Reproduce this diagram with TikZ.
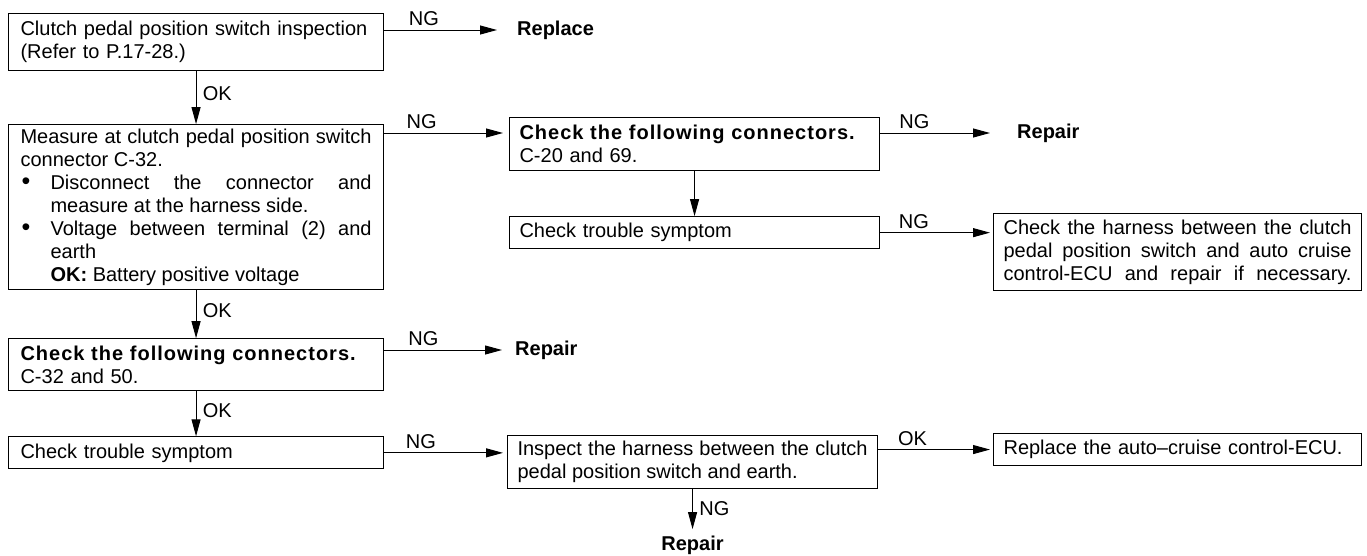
\documentclass[tikz,border=0pt]{standalone}
\usepackage{fontspec}
\setmainfont{Liberation Sans}
\usepackage{tikz}
\usetikzlibrary{arrows.meta, positioning}
\newcommand{\flowfont}{\fontsize{20}{23}\selectfont}
\newcommand{\connhead}[1]{{\bfseries\addfontfeature{LetterSpace=5}#1}}
\newcommand{\flowbullet}{\makebox[30pt][l]{\hspace{1pt}{\fontsize{25}{23}\selectfont\textbullet}}}
\setlength{\parindent}{0pt}
\hyphenpenalty=10000
\exhyphenpenalty=10000
\tolerance=10000
\hbadness=10000

\begin{document}
\begin{tikzpicture}[
  x=1pt, y=-1pt,
  box/.style={rectangle, draw, line width=1.1pt, anchor=north west,
              inner xsep=12pt, inner ysep=3pt, text width=351pt,
              align=left, font=\flowfont},
  rbox/.style={box, inner xsep=10pt, text width=350pt},
  term/.style={anchor=west, inner sep=0pt, font=\flowfont\bfseries},
  arrow/.style={-{Triangle[length=17pt, width=9pt]}, line width=1pt},
  lbl/.style={above, pos=0.3, font=\flowfont},
  vlbl/.style={right, pos=0.42, xshift=3pt, font=\flowfont},
]
  \useasboundingbox (0,0) rectangle (1367,555);

  % left column
  \node[box, minimum height=57pt] (insp) at (8,13)
    {Clutch pedal position switch inspection\\(Refer to P.17-28.)};
  \node[box, align=justify, minimum height=165pt,
        below=53pt of insp.south west, anchor=north west] (meas)
    {Measure at clutch pedal position switch connector C-32.\par
     \hangindent=30pt\hangafter=1\flowbullet Disconnect the connector and measure at the harness side.\par
     \hangindent=30pt\hangafter=1\flowbullet Voltage between terminal (2) and earth\par
     \hspace*{30pt}\textbf{OK:} Battery positive voltage};
  \node[box, minimum height=52pt, below=48pt of meas.south west, anchor=north west] (conn1)
    {\connhead{Check the following connectors.}\\C-32 and 50.};
  \node[box, minimum height=32pt, below=45pt of conn1.south west, anchor=north west] (symp1)
    {Check trouble symptom};

  % right columns
  \node[rbox, minimum height=53pt] (conn2) at (509,117)
    {\connhead{Check the following connectors.}\\C-20 and 69.};
  \node[rbox, minimum height=32pt, below=45pt of conn2.south west, anchor=north west] (symp2)
    {Check trouble symptom};
  \node[rbox, align=justify, text width=348pt, minimum height=77pt] (hchk) at (993,213)
    {\parfillskip=0pt Check the harness between the clutch pedal position switch and auto cruise control-ECU and repair if necessary.\par};
  \node[rbox, align=justify, minimum height=53pt] (harn) at (507,435)
    {Inspect the harness between the clutch pedal position switch and earth.};
  \node[rbox, text width=348pt, minimum height=32pt] (repl) at (993,433)
    {Replace the auto--cruise control-ECU.};

  % end results
  \node[term] (rplA) at (517,30) {Replace};
  \node[term] (rprA) at (515,350) {Repair};
  \node[term] (rprB) at (1017,133) {Repair};
  \node[term, below=47pt of harn] (rprC) {Repair};
  \coordinate (conn2in) at ([yshift=-16pt]conn2.north west);

  \draw[arrow] (insp.south) -- node[vlbl]{OK} (meas.north);
  \draw[arrow] (meas.south) -- node[vlbl]{OK} (conn1.north);
  \draw[arrow] (conn1.south) -- node[vlbl]{OK} (symp1.north);
  \draw[arrow, shorten >=20pt] (insp.east |- rplA.west) -- node[lbl]{NG} (rplA.west);
  \draw[arrow, shorten >=6pt] (meas.east |- conn2in) -- node[lbl]{NG} (conn2in);
  \draw[arrow, shorten >=13pt] (conn1.east |- rprA.west) -- node[lbl]{NG} (rprA.west);
  \draw[arrow, shorten >=4pt] (symp1.east) -- node[lbl]{NG} (symp1.east -| harn.west);
  \draw[arrow, shorten >=27pt] (conn2.east |- rprB.west) -- node[lbl, pos=0.25]{NG} (rprB.west);
  \draw[arrow] (conn2.south) -- (symp2.north);
  \draw[arrow, shorten >=3pt] (symp2.east) -- node[lbl]{NG} (symp2.east -| hchk.west);
  \draw[arrow, shorten >=3pt] (harn.east |- repl.west) -- node[lbl]{OK} (repl.west);
  \draw[arrow, shorten >=7pt] (harn.south) -- node[vlbl]{NG} (rprC.north);
\end{tikzpicture}
\end{document}
